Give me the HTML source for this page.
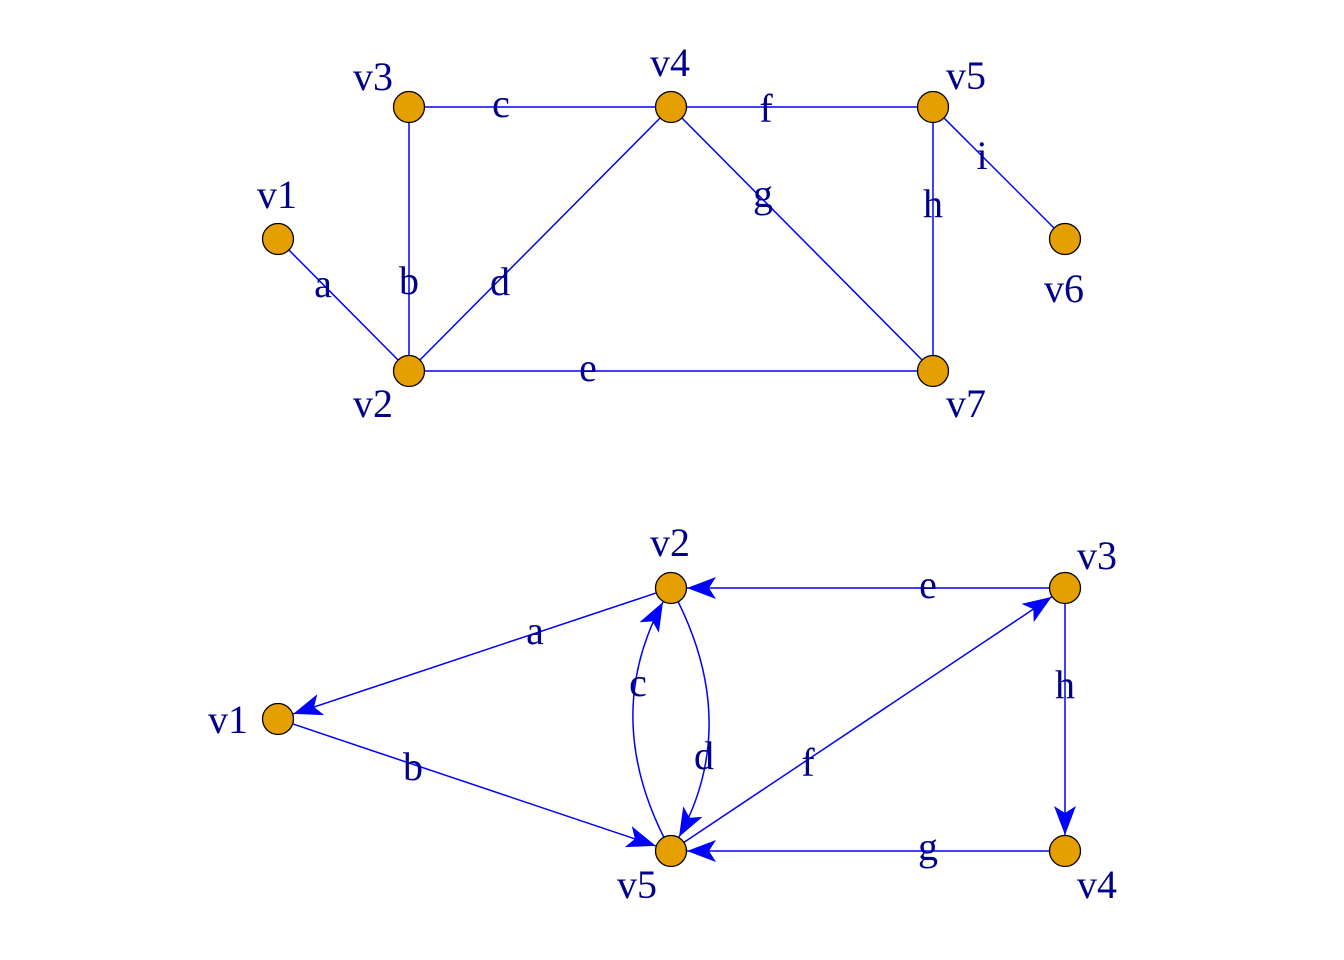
<!DOCTYPE html>
<html><head><meta charset="utf-8"><style>html,body{margin:0;padding:0;background:#fff}svg{display:block}</style></head>
<body>
<svg width="1344" height="960" xmlns="http://www.w3.org/2000/svg">
<defs>
<marker id="ar" markerUnits="userSpaceOnUse" markerWidth="32" markerHeight="24" refX="29" refY="11" orient="auto">
<path d="M0,0 L29,11 L0,22 L7,11 z" fill="#0000FF"/>
</marker>
</defs>
<g stroke="#0000FF" stroke-width="1.5" fill="none">
<line x1="278" y1="239" x2="409" y2="371"/>
<line x1="409" y1="107" x2="409" y2="371"/>
<line x1="409" y1="107" x2="671" y2="107"/>
<line x1="409" y1="371" x2="671" y2="107"/>
<line x1="409" y1="371" x2="933" y2="371"/>
<line x1="671" y1="107" x2="933" y2="107"/>
<line x1="671" y1="107" x2="933" y2="371"/>
<line x1="933" y1="107" x2="933" y2="371"/>
<line x1="933" y1="107" x2="1065" y2="239"/>

<line x1="655.8" y1="593.1" x2="293.2" y2="713.9" marker-end="url(#ar)"/>
<line x1="293.2" y1="724.1" x2="655.8" y2="845.9" marker-end="url(#ar)"/>
<path d="M671,851 Q599,720 663,602" marker-end="url(#ar)"/>
<path d="M671,588 Q743,720 679,837" marker-end="url(#ar)"/>
<line x1="1049" y1="588" x2="687" y2="588" marker-end="url(#ar)"/>
<line x1="684.3" y1="842.1" x2="1051.7" y2="596.9" marker-end="url(#ar)"/>
<line x1="1049" y1="851" x2="687" y2="851" marker-end="url(#ar)"/>
<line x1="1065" y1="604" x2="1065" y2="835" marker-end="url(#ar)"/>
</g>
<g fill="#E69F00" stroke="#000" stroke-width="1.3">
<circle cx="278" cy="239" r="15.5"/><circle cx="409" cy="371" r="15.5"/><circle cx="409" cy="107" r="15.5"/>
<circle cx="671" cy="107" r="15.5"/><circle cx="933" cy="107" r="15.5"/><circle cx="1065" cy="239" r="15.5"/>
<circle cx="933" cy="371" r="15.5"/>
<circle cx="278" cy="719" r="15.5"/><circle cx="671" cy="588" r="15.5"/><circle cx="1065" cy="588" r="15.5"/>
<circle cx="1065" cy="851" r="15.5"/><circle cx="671" cy="851" r="15.5"/>
</g>
<g font-family="Liberation Serif, serif" font-size="40" fill="#00008B" text-anchor="middle">
<text x="277" y="208">v1</text><text x="373" y="90">v3</text><text x="670" y="76">v4</text>
<text x="966" y="89">v5</text><text x="1064" y="302">v6</text><text x="966" y="417">v7</text><text x="373" y="417">v2</text>
<text x="323" y="297">a</text><text x="409" y="294">b</text><text x="501" y="117">c</text><text x="500" y="295">d</text>
<text x="588" y="381">e</text><text x="766" y="122">f</text><text x="763" y="207">g</text><text x="933" y="217">h</text><text x="982" y="169">i</text>

<text x="670" y="556">v2</text><text x="1097" y="569">v3</text><text x="228" y="733">v1</text>
<text x="637" y="898">v5</text><text x="1097" y="898">v4</text>
<text x="535" y="644">a</text><text x="413" y="780">b</text><text x="638" y="696">c</text><text x="704" y="769">d</text>
<text x="928" y="598">e</text><text x="808" y="776">f</text><text x="928" y="860">g</text><text x="1065" y="698">h</text>
</g>
</svg>
</body></html>
